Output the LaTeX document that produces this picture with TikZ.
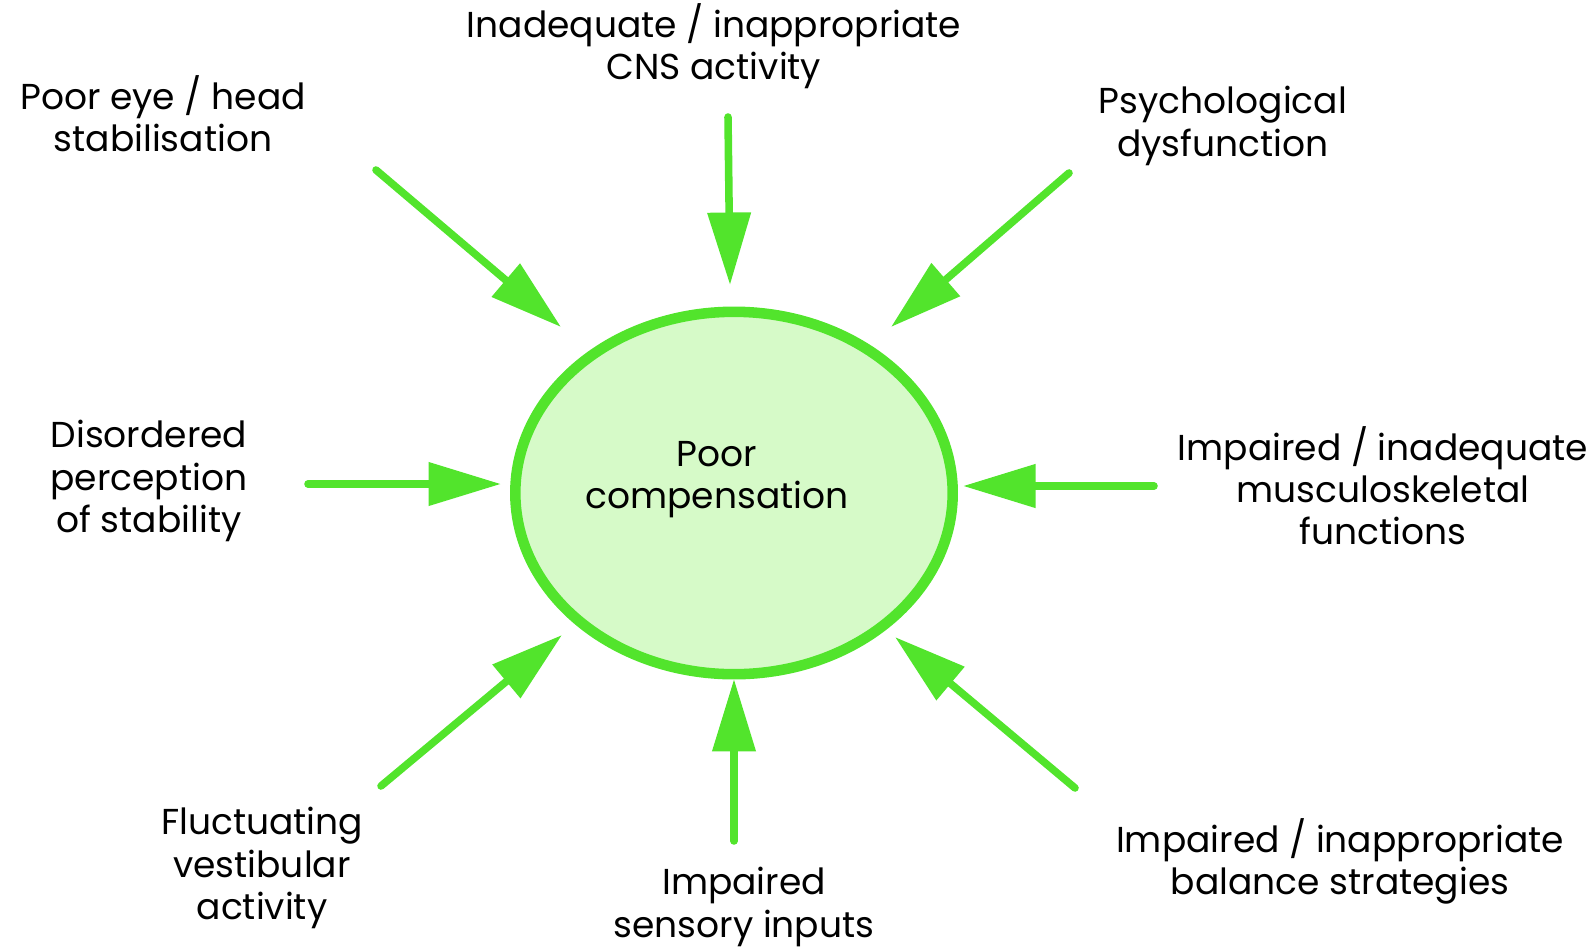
\documentclass[tikz,border=0pt]{standalone}
\usepackage{fontspec}
\setmainfont{Poppins}
\usepackage{tikz}
\usetikzlibrary{shapes.geometric,arrows.meta,positioning}
\definecolor{vgreen}{RGB}{82,228,44}
\definecolor{pgreen}{RGB}{214,250,200}

\begin{document}
\begin{tikzpicture}[
		x=0.02cm, y=-0.02cm,
		every node/.style={font=\fontsize{20.5}{24}\selectfont, align=center, inner sep=0pt},
		centre/.style={ellipse, draw=vgreen, line width=6pt, fill=pgreen, minimum width=8.75cm, minimum height=7.25cm},
		cause/.style={text=black},
		arrow/.style={-{Triangle[length=1.45cm, width=0.84cm]}, line width=4.3pt, draw=vgreen, line cap=round}
	]
		\useasboundingbox (0,0) rectangle (1594,950);
		\node[centre] (pc) at (734,493) {};
		\node at (717,480) {Poor\\compensation};

		\node[cause] (cns) at (714,46) {Inadequate / inappropriate\\CNS activity};
		\node[cause] (eye) at (163,114) {Poor eye / head\\stabilisation};
		\node[cause] (psy) at (1223,126) {Psychological\\dysfunction};
		\node[cause] (perc) at (149,481) {Disordered\\perception\\of stability};
		\node[cause] (musc) at (1383,486) {Impaired / inadequate\\musculoskeletal\\functions};
		\node[cause] (vest) at (262,868) {Fluctuating\\vestibular\\activity};
		\node[cause] (sens) at (744,907) {Impaired\\sensory inputs};
		\node[cause] (bal) at (1340,861) {Impaired / inappropriate\\balance strategies};

		% arrow ends
		\coordinate (cnsA) at (728,117);   \coordinate (cnsB) at (730,285);
		\coordinate (eyeA) at (376,170);   \coordinate (eyeB) at (561,327);
		\coordinate (psyA) at (1069,173);  \coordinate (psyB) at (891,327);
		\coordinate (percA) at (308,484);  \coordinate (percB) at (501,484);
		\coordinate (muscA) at (1154,486); \coordinate (muscB) at (963,486);
		\coordinate (vestA) at (381,786);  \coordinate (vestB) at (562,635);
		\coordinate (sensA) at (734,841);  \coordinate (sensB) at (734,679);
		\coordinate (balA) at (1075,788);  \coordinate (balB) at (895,637);

		\draw[arrow] (cnsA) -- (cnsB);
		\draw[arrow] (eyeA) -- (eyeB);
		\draw[arrow] (psyA) -- (psyB);
		\draw[arrow] (percA) -- (percB);
		\draw[arrow] (muscA) -- (muscB);
		\draw[arrow] (vestA) -- (vestB);
		\draw[arrow] (sensA) -- (sensB);
		\draw[arrow] (balA) -- (balB);
	\end{tikzpicture}
\end{document}
